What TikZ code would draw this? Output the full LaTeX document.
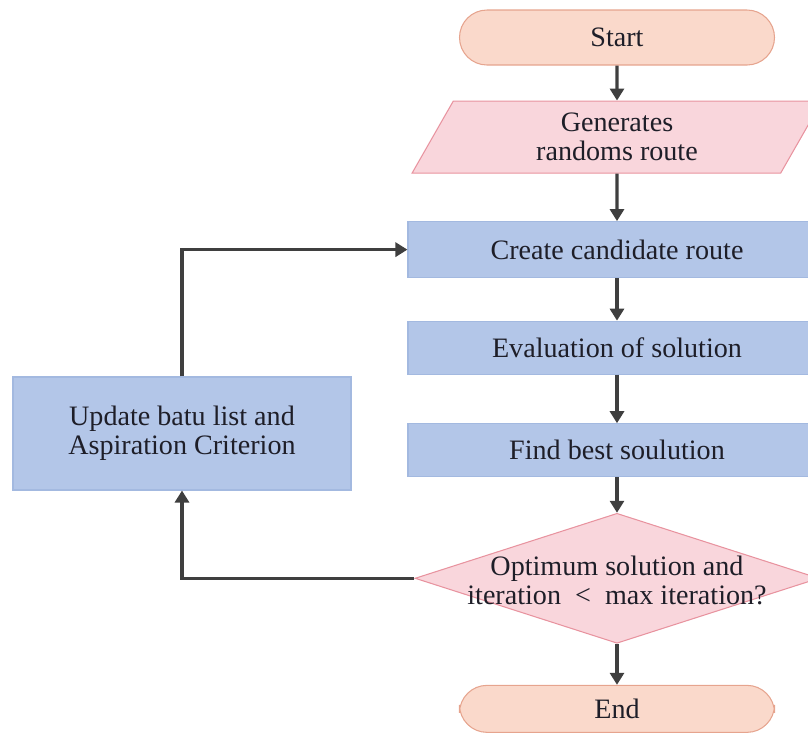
\documentclass[tikz,border=0pt]{standalone}
\usepackage{xcolor}
\usepackage{tikz}
\usepackage{fontspec}
\setmainfont{Liberation Serif}
\usetikzlibrary{
  arrows.meta,
  shapes.geometric,
  positioning
}
\definecolor{fcTermFill}{HTML}{FAD9CB}
\definecolor{fcTermLine}{HTML}{E6A48E}
\definecolor{fcPinkFill}{HTML}{F9D6DC}
\definecolor{fcPinkLine}{HTML}{E8939F}
\definecolor{fcBlueFill}{HTML}{B3C6E8}
\definecolor{fcBlueLine}{HTML}{A3B9E0}
\definecolor{fcArrow}{HTML}{3F3F3F}
\definecolor{fcText}{HTML}{1E1E28}
\tikzset{
  fcnode/.style={
    draw, line width=0.6pt, align=center, inner sep=0pt, text=fcText,
    font=\fontsize{16}{16.5}\selectfont
  },
  terminal/.style={fcnode, fill=fcTermFill, draw=fcTermLine,
    rounded corners=5.5mm, minimum width=6.3cm, minimum height=1.1cm},
  inout/.style={fcnode, fill=fcPinkFill, draw=fcPinkLine, trapezium,
    trapezium stretches=true, trapezium left angle=67, trapezium right angle=113,
    minimum width=8.2cm, minimum height=1.44cm},
  stepbox/.style={fcnode, fill=fcBlueFill, draw=fcBlueLine,
    minimum width=8.36cm, minimum height=1.06cm},
  decision/.style={fcnode, fill=fcPinkFill, draw=fcPinkLine, diamond,
    minimum width=8.08cm, minimum height=2.6cm},
  flow/.style={-{Triangle[length=2.4mm, width=2.8mm]}, line width=1.8pt, fcArrow}
}
\begin{document}
\begin{tikzpicture}[node distance=10mm]
  \useasboundingbox (0,0) rectangle (16.16,-14.68);
  % main column
  \node[terminal] (start) at (12.34,-0.75) {Start};
  \node[inout, below=7mm of start] (gen) {Generates\\randoms route};
  \node[stepbox, below=9.5mm of gen, minimum height=1.12cm] (cand) {Create candidate route};
  \node[stepbox, below=8.5mm of cand] (eval) {Evaluation of solution};
  \node[stepbox, below=9.7mm of eval] (best) {Find best soulution};
  \node[decision, below=7.1mm of best,
    label={[fcnode, draw=none, yshift=-0.05cm]center:Optimum solution and\\iteration~~<~~max iteration?}] (dec) {};
  \node[terminal, below=8.2mm of dec, minimum height=0.94cm] (end) {End};
  % loop back
  \node[stepbox, minimum width=6.76cm, minimum height=2.26cm] (upd) at (3.64,-8.67)
    {Update batu list and\\Aspiration Criterion};
  \draw[flow] (start) -- (gen);
  \draw[flow] (gen) -- (cand);
  \draw[flow] (cand) -- (eval);
  \draw[flow] (eval) -- (best);
  \draw[flow] (best) -- (dec);
  \draw[flow] (dec) -- (end);
  \draw[flow] (dec.west) -| (upd.south);
  \draw[flow] (upd.north) |- (cand.west);
\end{tikzpicture}
\end{document}
